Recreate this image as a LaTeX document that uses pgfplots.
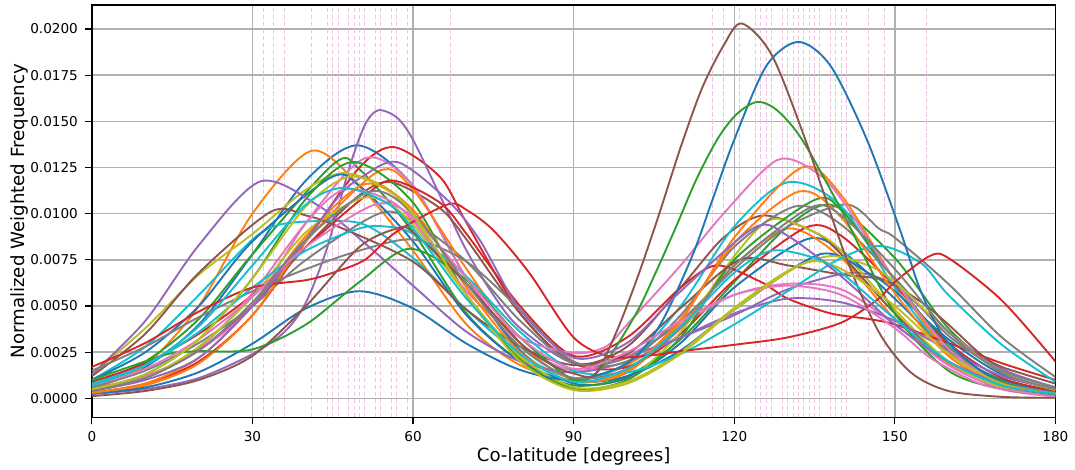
\documentclass[border=0pt]{standalone}
\usepackage{pgfplots}
\pgfplotsset{compat=1.18}
\usepackage{fontspec}
\setmainfont{DejaVu Sans}
\definecolor{c0}{HTML}{1F77B4}
\definecolor{c1}{HTML}{FF7F0E}
\definecolor{c2}{HTML}{2CA02C}
\definecolor{c3}{HTML}{D62728}
\definecolor{c4}{HTML}{9467BD}
\definecolor{c5}{HTML}{8C564B}
\definecolor{c6}{HTML}{E377C2}
\definecolor{c7}{HTML}{7F7F7F}
\definecolor{c8}{HTML}{BCBD22}
\definecolor{c9}{HTML}{17BECF}
\begin{document}
\begin{tikzpicture}
\begin{axis}[
  scale only axis,
  width=482.5pt, height=206.5pt,
  xmin=0, xmax=180, ymin=-0.00103, ymax=0.0213,
  y filter/.expression={y/1000},
  xtick={0,30,60,90,120,150,180},
  ytick={0,0.0025,0.005,0.0075,0.01,0.0125,0.015,0.0175,0.02},
  scaled y ticks=false,
  yticklabel style={/pgf/number format/.cd, fixed, fixed zerofill, precision=4},
  /pgf/number format/assume math mode=true,
  tick pos=left, tick align=outside, major tick length=3.5pt,
  tick style={black, line width=0.6pt},
  grid=major,
  major grid style={color=black!31, line width=0.7pt},
  axis line style={black, line width=0.7pt},
  extra x ticks={32,34,36,41,44,45,46,48,49,50,51,53,54,56,57,59,67,116,118,121,124,125,126,127,129,130,131,132,133,134,135,136,138,139,140,141,145,148,156},
  extra x tick labels={},
  extra x tick style={major grid style={color=c6!45, dash pattern=on 2.2pt off 1.3pt, line width=0.5pt}, major tick length=0pt},
  tick label style={font=\fontsize{6.8}{8}\selectfont},
  label style={font=\fontsize{9.1}{11}\selectfont},
  xlabel={Co-latitude [degrees]},
  ylabel={Normalized Weighted Frequency},
  xlabel style={at={(axis description cs:0.5,-0.0726)}, anchor=north, inner sep=0pt},
  ylabel style={at={(axis description cs:-0.085,0.5)}, anchor=north, inner sep=0pt},
  every axis plot/.append style={line width=0.95pt, smooth, no markers},
]
% 0 blue
\addplot[c0] coordinates {(0,.6)(10,1.7)(20,4.0)(30,7.8)(40,11.8)(49.7,13.7)(60,11.5)(70,6.5)(80,2.6)(90,.8)(100,1.1)(110,3.0)(120,6.0)(133.4,8.6)(140,8.0)(150,5.4)(160,2.6)(170,1.0)(180,.35)};
% 1 orange
\addplot[c1] coordinates {(0,.5)(10,1.8)(20,5.0)(30,10.0)(41,13.4)(50,11.5)(60,8.0)(70,4.0)(80,1.8)(90,1.0)(100,1.8)(110,4.0)(120,7.2)(130.2,9.2)(140,7.6)(150,4.3)(160,1.9)(170,.7)(180,.25)};
% 2 green
\addplot[c2] coordinates {(0,.8)(10,2.0)(20,4.3)(30,7.8)(45.2,12.7)(50,12.4)(60,9.0)(70,4.6)(80,2.0)(90,.7)(100,1.2)(110,3.2)(120,6.3)(130,9.3)(138.5,10.45)(150,7.6)(160,3.8)(170,1.4)(180,.45)};
% 3 red
\addplot[c3] coordinates {(0,.3)(10,.8)(20,2.0)(30,4.5)(40,8.5)(50,12.5)(56.5,13.6)(65,12.0)(70,9.5)(80,4.6)(90,1.9)(100,1.7)(110,3.5)(120,6.4)(133.4,9.25)(140,8.8)(150,6.1)(160,3.0)(170,1.1)(180,.4)};
% 4 purple
\addplot[c4] coordinates {(0,.25)(10,.5)(20,1.1)(30,2.4)(36,3.6)(40,5.2)(44,8.2)(48,12.4)(51,14.8)(53.5,15.6)(57,15.2)(60,14.0)(65,11.0)(70,8.0)(75,5.6)(80,3.8)(90,1.9)(100,2.3)(110,3.3)(120,4.5)(130,5.9)(142,6.8)(150,6.1)(160,3.6)(170,1.6)(180,.6)};
% 5 brown
\addplot[c5] coordinates {(0,.5)(10,1.2)(20,2.6)(30,5.0)(40,8.2)(50,11.0)(56,11.7)(65,10.3)(70,8.6)(80,4.6)(90,1.9)(100,2.8)(110,6.0)(118,8.7)(125.4,9.9)(135,9.0)(140,7.8)(150,4.6)(160,2.0)(170,.7)(180,.25)};
% 6 pink
\addplot[c6] coordinates {(0,.5)(10,1.2)(20,2.6)(30,5.0)(40,9.5)(51,13.0)(60,11.5)(70,6.5)(80,3.0)(90,1.5)(100,2.3)(110,4.0)(120,5.6)(130,6.2)(140,5.9)(150,4.0)(160,1.8)(170,.5)(180,.1)};
% 7 gray
\addplot[c7] coordinates {(0,.6)(10,1.5)(20,3.0)(30,5.0)(40,7.5)(53.6,10.0)(60,9.6)(70,7.4)(80,4.2)(90,1.9)(100,2.2)(110,4.2)(120,7.0)(130,9.3)(141,10.5)(147,9.2)(150,8.7)(160,6.2)(170,3.3)(180,1.16)};
% 8 olive
\addplot[c8] coordinates {(0,1.3)(10,3.8)(20,6.7)(30,8.9)(40,11.3)(47,12.2)(55,11.4)(60,9.8)(70,5.6)(80,2.2)(90,.5)(100,1.0)(110,3.6)(120,7.7)(127,9.7)(135,9.0)(140,8.0)(150,4.8)(160,2.0)(170,.6)(180,.2)};
% 9 cyan
\addplot[c9] coordinates {(0,1.0)(10,2.8)(20,5.6)(30,8.6)(35,9.4)(43,9.6)(51,9.4)(60,7.6)(70,4.8)(80,2.4)(90,1.1)(100,1.9)(110,5.0)(120,9.3)(130,11.7)(140,10.4)(150,6.0)(160,2.5)(170,.9)(180,.3)};
% 10 blue
\addplot[c0] coordinates {(0,1.0)(10,2.5)(20,5.0)(30,8.5)(44.6,11.95)(50,11.5)(60,8.5)(70,4.5)(80,2.0)(90,.9)(100,1.2)(110,2.6)(120,4.8)(136,7.8)(145,6.8)(150,5.8)(160,3.2)(170,1.3)(180,.5)};
% 11 orange
\addplot[c1] coordinates {(0,.25)(10,.7)(20,1.9)(30,4.5)(40,8.5)(53.6,12.3)(60,11.3)(70,7.0)(80,3.0)(90,1.0)(100,1.4)(110,4.2)(120,8.7)(132.6,12.5)(140,11.0)(150,6.4)(160,2.5)(170,.8)(180,.25)};
% 12 green
\addplot[c2] coordinates {(0,.5)(10,1.3)(20,3.2)(30,6.5)(40,10.8)(49,12.8)(60,10.6)(70,5.6)(80,2.1)(90,.55)(100,1.0)(110,3.3)(120,7.5)(134.7,10.7)(140,10.2)(150,6.4)(160,2.8)(170,.9)(180,.3)};
% 13 red
\addplot[c3] coordinates {(0,.9)(10,1.9)(20,3.5)(30,5.6)(40,8.2)(50,10.7)(56,11.8)(65,10.6)(70,8.9)(80,5.0)(90,2.3)(100,3.3)(110,6.0)(116.7,7.2)(125,6.3)(130,5.4)(138,4.6)(145,4.3)(150,4.0)(160,3.0)(170,1.9)(180,1.0)};
% 14 purple
\addplot[c4] coordinates {(0,1.3)(10,4.2)(20,8.3)(31.5,11.75)(42.5,10.4)(51,8.4)(60,6.1)(70,3.6)(80,2.0)(90,1.4)(100,2.0)(110,3.3)(120,4.6)(130,5.4)(140,5.2)(150,4.2)(160,2.6)(170,1.2)(180,.5)};
% 15 brown
\addplot[c5] coordinates {(0,1.2)(10,3.5)(20,6.8)(33.4,10.1)(40,9.9)(46,9.3)(60,7.4)(70,4.8)(80,2.8)(90,1.8)(100,2.4)(110,4.9)(121,7.5)(130,7.2)(140,6.7)(148,6.4)(155,5.2)(160,4.0)(166,2.4)(170,1.7)(180,.8)};
% 16 pink
\addplot[c6] coordinates {(0,.4)(10,1.1)(20,2.7)(30,5.7)(40,9.5)(47,11.3)(55,10.8)(60,9.6)(70,5.8)(80,3.3)(90,2.45)(96,2.8)(100,4.0)(110,7.2)(118,10.0)(128,12.9)(135,12.3)(140,10.8)(150,6.4)(160,2.7)(170,.8)(180,.25)};
% 17 gray
\addplot[c7] coordinates {(0,1.5)(10,2.8)(20,4.4)(30,5.8)(40,7.0)(50,8.0)(60,8.6)(70,7.4)(80,4.8)(90,2.0)(100,2.0)(110,4.5)(120,8.2)(131.5,10.4)(140,9.4)(150,6.5)(160,3.4)(170,1.5)(180,.6)};
% 18 olive
\addplot[c8] coordinates {(0,.4)(10,1.1)(20,2.8)(30,5.5)(40,9.0)(50,10.8)(55,10.6)(60,9.4)(70,5.6)(80,2.3)(90,.6)(100,.9)(110,2.5)(120,4.9)(130,6.9)(137.9,7.7)(145,7.2)(150,6.3)(160,3.6)(170,1.4)(180,.45)};
% 19 cyan
\addplot[c9] coordinates {(0,.8)(10,1.8)(20,3.6)(30,6.0)(40,8.0)(50,9.2)(55,9.3)(60,8.9)(70,6.6)(80,3.6)(90,1.5)(100,1.4)(110,2.4)(120,4.0)(130,5.8)(140,7.6)(147.5,8.25)(155,7.3)(160,5.6)(170,2.9)(180,.9)};
% 20 blue (tall right)
\addplot[c0] coordinates {(0,.24)(10,.59)(20,1.42)(30,2.96)(40,4.87)(50,5.8)(60,4.87)(70,2.96)(80,1.54)(90,1.0)(100,1.9)(106,3.9)(112,7.6)(116,10.8)(120,14.0)(126,18.0)(132,19.3)(138,18.0)(144.8,14.0)(151,9.1)(155,5.7)(160,3.0)(170,.8)(180,.25)};
% 21 orange
\addplot[c1] coordinates {(0,.3)(10,.8)(20,2.2)(30,5.0)(40,8.8)(51,11.6)(60,10.2)(70,6.0)(80,2.5)(90,.9)(100,1.5)(110,4.3)(120,8.4)(132.1,11.2)(140,9.8)(150,5.7)(160,2.3)(170,.7)(180,.2)};
% 22 green (tall right)
\addplot[c2] coordinates {(0,1.0)(10,2.0)(15,2.45)(20,2.55)(30,2.65)(40,4.0)(50,6.3)(59.4,8.1)(70,6.4)(80,3.3)(90,1.0)(95,1.6)(101.5,4.5)(105,6.6)(109,9.2)(113,11.9)(117,14.1)(120.5,15.4)(124.3,16.05)(128,15.6)(132.7,14.0)(140,10.2)(150,4.6)(160,1.5)(170,.5)(180,.2)};
% 23 red
\addplot[c3] coordinates {(0,1.7)(10,3.0)(20,4.7)(30,6.0)(40,6.4)(45,6.8)(51,7.5)(56.8,9.0)(66.5,10.5)(70,10.2)(75,9.1)(81.7,6.8)(90,3.3)(97,2.25)(105,2.35)(110,2.55)(120,2.9)(130,3.3)(140,4.1)(147,5.4)(150,6.3)(156.5,7.7)(160,7.6)(170,5.3)(180,2.0)};
% 24 purple
\addplot[c4] coordinates {(0,.4)(10,1.0)(20,2.2)(30,5.0)(40,8.6)(46.3,11.0)(50,11.9)(57,12.8)(66.2,10.8)(72.4,8.6)(80,4.8)(90,2.2)(100,3.0)(110,5.8)(123.8,9.25)(130,8.8)(140,6.6)(150,4.0)(160,2.0)(170,.8)(180,.3)};
% 25 brown (tall right)
\addplot[c5] coordinates {(0,.12)(10,.4)(20,1.0)(30,2.3)(40,5.0)(50,8.2)(57,9.2)(60,9.0)(70,6.2)(80,3.0)(86,1.8)(90,1.35)(94,1.3)(98,3.6)(102,6.6)(106,10.0)(110,13.6)(114,16.8)(118,19.1)(121.4,20.3)(127,18.6)(133.3,14.0)(140.8,7.7)(147,3.6)(153,1.4)(160,.4)(170,.08)(180,.03)};
% 26 pink
\addplot[c6] coordinates {(0,.7)(10,1.6)(20,3.2)(30,5.5)(40,8.2)(53,10.5)(60,9.8)(70,6.5)(80,3.3)(90,1.6)(100,2.5)(110,4.2)(120,5.6)(130,6.1)(140,5.6)(150,3.8)(156.6,2.2)(165,.9)(170,.5)(180,.1)};
% 27 gray
\addplot[c7] coordinates {(0,.4)(10,1.1)(20,2.6)(30,5.2)(40,8.6)(52,11.2)(60,10.0)(70,6.2)(80,2.8)(90,1.1)(100,1.6)(110,3.8)(120,7.2)(134,10.3)(140,9.9)(150,7.0)(160,3.6)(170,1.4)(180,.5)};
% 28 olive
\addplot[c8] coordinates {(0,.5)(10,1.3)(20,3.2)(30,6.5)(40,10.4)(48,12.0)(55,11.3)(60,10.0)(70,5.6)(80,2.0)(90,.45)(100,.8)(110,2.4)(120,4.8)(133,7.3)(140,7.0)(150,5.0)(160,2.4)(170,.8)(180,.25)};
% 29 cyan
\addplot[c9] coordinates {(0,.7)(10,1.8)(20,3.9)(30,7.2)(40,10.5)(47,11.4)(55,10.6)(60,9.2)(70,5.4)(80,2.4)(90,.9)(100,1.6)(110,3.9)(120,6.8)(127,8.0)(135,7.6)(140,6.8)(150,4.3)(160,2.0)(170,.7)(180,.25)};
\end{axis}
\path ([xshift=-46pt,yshift=2.5pt]current axis.north west) rectangle ([xshift=9pt,yshift=-26pt]current axis.south east);
\end{tikzpicture}
\end{document}
